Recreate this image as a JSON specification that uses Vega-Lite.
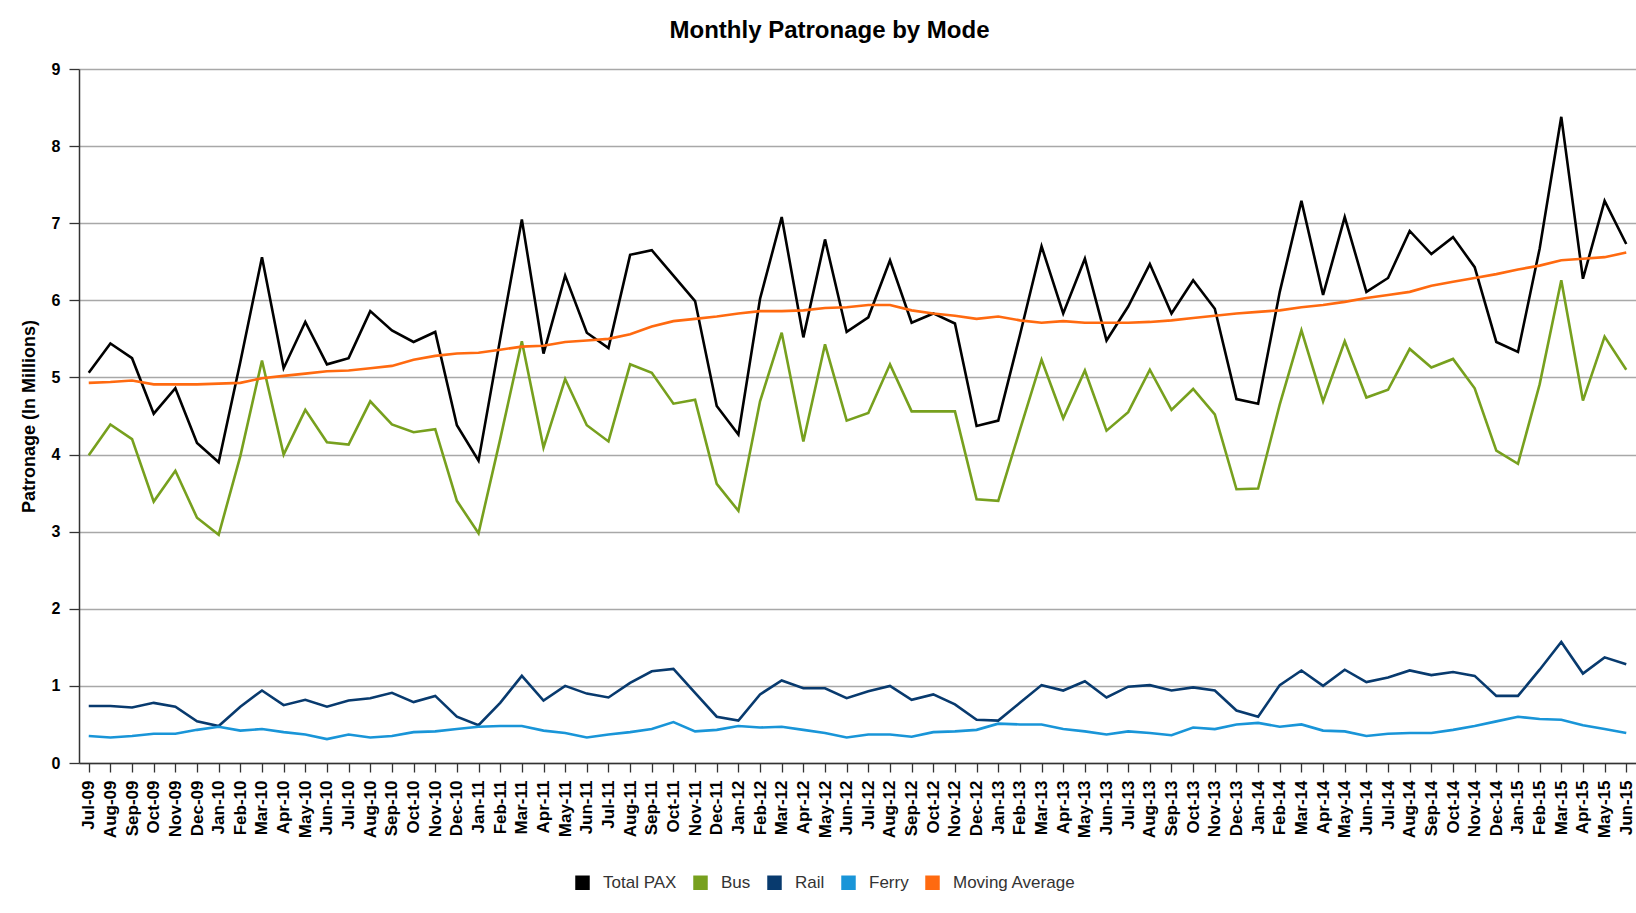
{
  "$schema": "https://vega.github.io/schema/vega-lite/v6.json",
  "autosize": {"type": "none"},
  "padding": {"left": 79, "top": 69, "right": 0, "bottom": 150},
  "width": 1557,
  "height": 694,
  "background": "white",
  "title": {
    "text": "Monthly Patronage by Mode",
    "font": "Liberation Sans",
    "fontSize": 24,
    "fontWeight": "bold",
    "color": "#000000",
    "anchor": "middle",
    "dx": -28,
    "offset": 18
  },
  "config": {
    "view": {"stroke": null},
    "font": "Liberation Sans"
  },
  "data": {
    "values": [
      {"m": "Jul-09", "Total PAX": 5.06, "Bus": 3.99, "Rail": 0.74, "Ferry": 0.35, "Moving Average": 4.93},
      {"m": "Aug-09", "Total PAX": 5.44, "Bus": 4.39, "Rail": 0.74, "Ferry": 0.33, "Moving Average": 4.94},
      {"m": "Sep-09", "Total PAX": 5.25, "Bus": 4.20, "Rail": 0.72, "Ferry": 0.35, "Moving Average": 4.96},
      {"m": "Oct-09", "Total PAX": 4.53, "Bus": 3.39, "Rail": 0.78, "Ferry": 0.38, "Moving Average": 4.91},
      {"m": "Nov-09", "Total PAX": 4.86, "Bus": 3.79, "Rail": 0.73, "Ferry": 0.38, "Moving Average": 4.91},
      {"m": "Dec-09", "Total PAX": 4.15, "Bus": 3.18, "Rail": 0.54, "Ferry": 0.43, "Moving Average": 4.91},
      {"m": "Jan-10", "Total PAX": 3.90, "Bus": 2.96, "Rail": 0.48, "Ferry": 0.47, "Moving Average": 4.92},
      {"m": "Feb-10", "Total PAX": 5.20, "Bus": 3.98, "Rail": 0.73, "Ferry": 0.42, "Moving Average": 4.93},
      {"m": "Mar-10", "Total PAX": 6.56, "Bus": 5.22, "Rail": 0.94, "Ferry": 0.44, "Moving Average": 4.99},
      {"m": "Apr-10", "Total PAX": 5.12, "Bus": 4.00, "Rail": 0.75, "Ferry": 0.40, "Moving Average": 5.02},
      {"m": "May-10", "Total PAX": 5.72, "Bus": 4.58, "Rail": 0.82, "Ferry": 0.37, "Moving Average": 5.05},
      {"m": "Jun-10", "Total PAX": 5.17, "Bus": 4.16, "Rail": 0.73, "Ferry": 0.31, "Moving Average": 5.08},
      {"m": "Jul-10", "Total PAX": 5.25, "Bus": 4.13, "Rail": 0.81, "Ferry": 0.37, "Moving Average": 5.09},
      {"m": "Aug-10", "Total PAX": 5.86, "Bus": 4.69, "Rail": 0.84, "Ferry": 0.33, "Moving Average": 5.12},
      {"m": "Sep-10", "Total PAX": 5.61, "Bus": 4.39, "Rail": 0.91, "Ferry": 0.35, "Moving Average": 5.15},
      {"m": "Oct-10", "Total PAX": 5.46, "Bus": 4.29, "Rail": 0.79, "Ferry": 0.40, "Moving Average": 5.23},
      {"m": "Nov-10", "Total PAX": 5.59, "Bus": 4.33, "Rail": 0.87, "Ferry": 0.41, "Moving Average": 5.28},
      {"m": "Dec-10", "Total PAX": 4.38, "Bus": 3.40, "Rail": 0.60, "Ferry": 0.44, "Moving Average": 5.31},
      {"m": "Jan-11", "Total PAX": 3.92, "Bus": 2.98, "Rail": 0.49, "Ferry": 0.47, "Moving Average": 5.32},
      {"m": "Feb-11", "Total PAX": 5.50, "Bus": 4.20, "Rail": 0.78, "Ferry": 0.48, "Moving Average": 5.36},
      {"m": "Mar-11", "Total PAX": 7.05, "Bus": 5.47, "Rail": 1.13, "Ferry": 0.48, "Moving Average": 5.40},
      {"m": "Apr-11", "Total PAX": 5.31, "Bus": 4.09, "Rail": 0.81, "Ferry": 0.42, "Moving Average": 5.41},
      {"m": "May-11", "Total PAX": 6.32, "Bus": 4.98, "Rail": 1.00, "Ferry": 0.39, "Moving Average": 5.46},
      {"m": "Jun-11", "Total PAX": 5.58, "Bus": 4.38, "Rail": 0.90, "Ferry": 0.33, "Moving Average": 5.48},
      {"m": "Jul-11", "Total PAX": 5.38, "Bus": 4.17, "Rail": 0.85, "Ferry": 0.37, "Moving Average": 5.50},
      {"m": "Aug-11", "Total PAX": 6.59, "Bus": 5.17, "Rail": 1.04, "Ferry": 0.40, "Moving Average": 5.56},
      {"m": "Sep-11", "Total PAX": 6.65, "Bus": 5.06, "Rail": 1.19, "Ferry": 0.44, "Moving Average": 5.66},
      {"m": "Oct-11", "Total PAX": 6.32, "Bus": 4.66, "Rail": 1.22, "Ferry": 0.53, "Moving Average": 5.73},
      {"m": "Nov-11", "Total PAX": 5.99, "Bus": 4.71, "Rail": 0.91, "Ferry": 0.41, "Moving Average": 5.76},
      {"m": "Dec-11", "Total PAX": 4.63, "Bus": 3.62, "Rail": 0.60, "Ferry": 0.43, "Moving Average": 5.79},
      {"m": "Jan-12", "Total PAX": 4.26, "Bus": 3.27, "Rail": 0.55, "Ferry": 0.48, "Moving Average": 5.83},
      {"m": "Feb-12", "Total PAX": 6.02, "Bus": 4.69, "Rail": 0.89, "Ferry": 0.46, "Moving Average": 5.86},
      {"m": "Mar-12", "Total PAX": 7.08, "Bus": 5.58, "Rail": 1.07, "Ferry": 0.47, "Moving Average": 5.86},
      {"m": "Apr-12", "Total PAX": 5.52, "Bus": 4.17, "Rail": 0.97, "Ferry": 0.43, "Moving Average": 5.87},
      {"m": "May-12", "Total PAX": 6.79, "Bus": 5.43, "Rail": 0.97, "Ferry": 0.39, "Moving Average": 5.90},
      {"m": "Jun-12", "Total PAX": 5.59, "Bus": 4.44, "Rail": 0.84, "Ferry": 0.33, "Moving Average": 5.91},
      {"m": "Jul-12", "Total PAX": 5.78, "Bus": 4.54, "Rail": 0.93, "Ferry": 0.37, "Moving Average": 5.94},
      {"m": "Aug-12", "Total PAX": 6.52, "Bus": 5.17, "Rail": 1.00, "Ferry": 0.37, "Moving Average": 5.94},
      {"m": "Sep-12", "Total PAX": 5.71, "Bus": 4.56, "Rail": 0.82, "Ferry": 0.34, "Moving Average": 5.87},
      {"m": "Oct-12", "Total PAX": 5.83, "Bus": 4.56, "Rail": 0.89, "Ferry": 0.40, "Moving Average": 5.83},
      {"m": "Nov-12", "Total PAX": 5.70, "Bus": 4.56, "Rail": 0.76, "Ferry": 0.41, "Moving Average": 5.80},
      {"m": "Dec-12", "Total PAX": 4.37, "Bus": 3.42, "Rail": 0.56, "Ferry": 0.43, "Moving Average": 5.76},
      {"m": "Jan-13", "Total PAX": 4.44, "Bus": 3.40, "Rail": 0.55, "Ferry": 0.51, "Moving Average": 5.79},
      {"m": "Feb-13", "Total PAX": 5.55, "Bus": 4.32, "Rail": 0.78, "Ferry": 0.50, "Moving Average": 5.74},
      {"m": "Mar-13", "Total PAX": 6.70, "Bus": 5.23, "Rail": 1.01, "Ferry": 0.50, "Moving Average": 5.71},
      {"m": "Apr-13", "Total PAX": 5.83, "Bus": 4.47, "Rail": 0.94, "Ferry": 0.44, "Moving Average": 5.73},
      {"m": "May-13", "Total PAX": 6.54, "Bus": 5.09, "Rail": 1.06, "Ferry": 0.41, "Moving Average": 5.71},
      {"m": "Jun-13", "Total PAX": 5.48, "Bus": 4.31, "Rail": 0.85, "Ferry": 0.37, "Moving Average": 5.71},
      {"m": "Jul-13", "Total PAX": 5.92, "Bus": 4.55, "Rail": 0.99, "Ferry": 0.41, "Moving Average": 5.71},
      {"m": "Aug-13", "Total PAX": 6.47, "Bus": 5.10, "Rail": 1.01, "Ferry": 0.39, "Moving Average": 5.72},
      {"m": "Sep-13", "Total PAX": 5.83, "Bus": 4.58, "Rail": 0.94, "Ferry": 0.36, "Moving Average": 5.74},
      {"m": "Oct-13", "Total PAX": 6.26, "Bus": 4.85, "Rail": 0.98, "Ferry": 0.46, "Moving Average": 5.77},
      {"m": "Nov-13", "Total PAX": 5.89, "Bus": 4.52, "Rail": 0.94, "Ferry": 0.44, "Moving Average": 5.80},
      {"m": "Dec-13", "Total PAX": 4.72, "Bus": 3.55, "Rail": 0.68, "Ferry": 0.50, "Moving Average": 5.83},
      {"m": "Jan-14", "Total PAX": 4.66, "Bus": 3.56, "Rail": 0.60, "Ferry": 0.52, "Moving Average": 5.85},
      {"m": "Feb-14", "Total PAX": 6.11, "Bus": 4.65, "Rail": 1.01, "Ferry": 0.47, "Moving Average": 5.87},
      {"m": "Mar-14", "Total PAX": 7.29, "Bus": 5.61, "Rail": 1.20, "Ferry": 0.50, "Moving Average": 5.91},
      {"m": "Apr-14", "Total PAX": 6.07, "Bus": 4.69, "Rail": 1.00, "Ferry": 0.42, "Moving Average": 5.94},
      {"m": "May-14", "Total PAX": 7.08, "Bus": 5.47, "Rail": 1.21, "Ferry": 0.41, "Moving Average": 5.98},
      {"m": "Jun-14", "Total PAX": 6.11, "Bus": 4.74, "Rail": 1.05, "Ferry": 0.35, "Moving Average": 6.03},
      {"m": "Jul-14", "Total PAX": 6.29, "Bus": 4.84, "Rail": 1.11, "Ferry": 0.38, "Moving Average": 6.07},
      {"m": "Aug-14", "Total PAX": 6.90, "Bus": 5.37, "Rail": 1.20, "Ferry": 0.39, "Moving Average": 6.11},
      {"m": "Sep-14", "Total PAX": 6.60, "Bus": 5.13, "Rail": 1.14, "Ferry": 0.39, "Moving Average": 6.19},
      {"m": "Oct-14", "Total PAX": 6.82, "Bus": 5.24, "Rail": 1.18, "Ferry": 0.43, "Moving Average": 6.24},
      {"m": "Nov-14", "Total PAX": 6.43, "Bus": 4.86, "Rail": 1.13, "Ferry": 0.48, "Moving Average": 6.29},
      {"m": "Dec-14", "Total PAX": 5.46, "Bus": 4.05, "Rail": 0.87, "Ferry": 0.54, "Moving Average": 6.34},
      {"m": "Jan-15", "Total PAX": 5.33, "Bus": 3.88, "Rail": 0.87, "Ferry": 0.60, "Moving Average": 6.40},
      {"m": "Feb-15", "Total PAX": 6.67, "Bus": 4.91, "Rail": 1.21, "Ferry": 0.57, "Moving Average": 6.45},
      {"m": "Mar-15", "Total PAX": 8.38, "Bus": 6.26, "Rail": 1.57, "Ferry": 0.56, "Moving Average": 6.52},
      {"m": "Apr-15", "Total PAX": 6.28, "Bus": 4.70, "Rail": 1.16, "Ferry": 0.49, "Moving Average": 6.54},
      {"m": "May-15", "Total PAX": 7.29, "Bus": 5.53, "Rail": 1.37, "Ferry": 0.44, "Moving Average": 6.56},
      {"m": "Jun-15", "Total PAX": 6.73, "Bus": 5.10, "Rail": 1.28, "Ferry": 0.39, "Moving Average": 6.62}
    ]
  },
  "transform": [
    {"fold": ["Total PAX", "Bus", "Rail", "Ferry", "Moving Average"], "as": ["series", "value"]}
  ],
  "mark": {"type": "line", "strokeWidth": 2.6, "strokeJoin": "miter", "interpolate": "linear"},
  "encoding": {
    "x": {
      "field": "m",
      "type": "ordinal",
      "sort": null,
      "scale": {"type": "point", "padding": 0.45},
      "axis": {
        "title": null,
        "labelAngle": -90,
        "labelFont": "Liberation Sans",
        "labelFontSize": 17,
        "labelFontWeight": "bold",
        "labelColor": "#000000",
        "labelOverlap": false,
        "labelPadding": 8,
        "labelBound": false,
        "tickSize": 9,
        "tickColor": "#333333",
        "tickWidth": 1.3,
        "domainColor": "#333333",
        "domainWidth": 1.5,
        "grid": false
      }
    },
    "y": {
      "field": "value",
      "type": "quantitative",
      "scale": {"domain": [0, 9], "nice": false, "zero": true},
      "axis": {
        "title": "Patronage (In Millions)",
        "titleFont": "Liberation Sans",
        "titleFontSize": 18,
        "titleFontWeight": "bold",
        "titleColor": "#000000",
        "titlePadding": 13,
        "values": [0, 1, 2, 3, 4, 5, 6, 7, 8, 9],
        "labelFont": "Liberation Sans",
        "labelFontSize": 16,
        "labelFontWeight": "bold",
        "labelColor": "#000000",
        "labelPadding": 9,
        "tickSize": 10,
        "tickColor": "#333333",
        "tickWidth": 1.3,
        "domainColor": "#333333",
        "domainWidth": 1.5,
        "grid": true,
        "gridColor": "#a8a8a8",
        "gridWidth": 1.4
      }
    },
    "color": {
      "field": "series",
      "type": "nominal",
      "scale": {
        "domain": ["Total PAX", "Bus", "Rail", "Ferry", "Moving Average"],
        "range": ["#000000", "#77a01e", "#083a6e", "#1995d8", "#ff6a10"]
      },
      "legend": {
        "title": null,
        "orient": "none",
        "direction": "horizontal",
        "legendX": 495,
        "legendY": 805,
        "padding": 0,
        "symbolType": "square",
        "symbolSize": 210,
        "symbolStrokeWidth": 0,
        "labelFont": "Liberation Sans",
        "labelFontSize": 17,
        "labelColor": "#333333",
        "labelOffset": 12,
        "columnPadding": 15,
        "encode": {
          "symbols": {"update": {"fill": {"scale": "color", "field": "value"}, "fillOpacity": {"value": 1}, "strokeWidth": {"value": 0}}}
        }
      }
    }
  }
}
